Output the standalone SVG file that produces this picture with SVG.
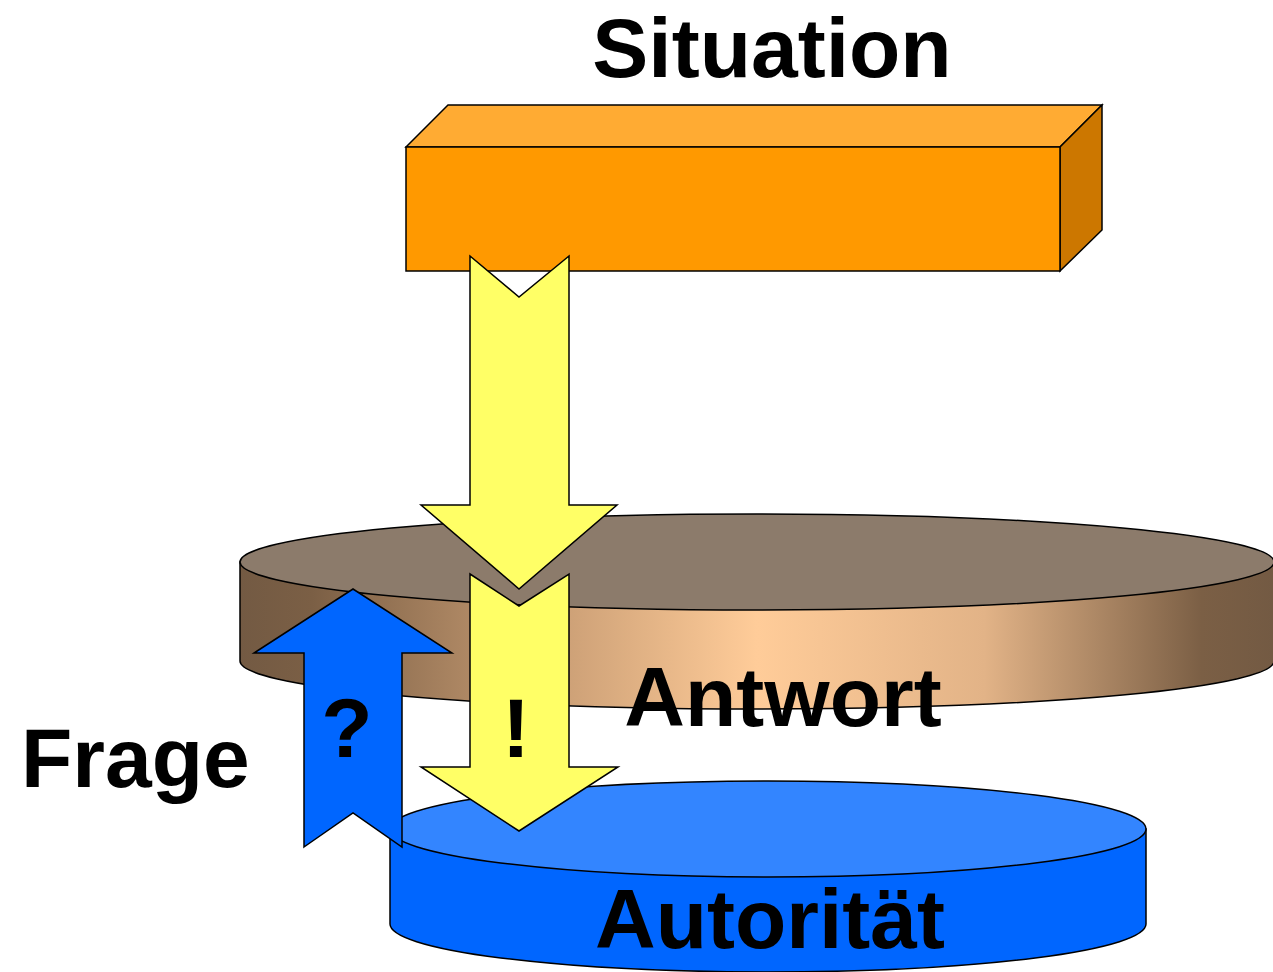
<svg xmlns="http://www.w3.org/2000/svg" width="1273" height="972" viewBox="0 0 1273 972">
<defs>
<linearGradient id="brownSide" gradientUnits="userSpaceOnUse" x1="240" y1="0" x2="1274" y2="0">
<stop offset="0" stop-color="#735a43"/>
<stop offset="0.07" stop-color="#7b5f45"/>
<stop offset="0.3" stop-color="#c99d74"/>
<stop offset="0.5" stop-color="#ffcc99"/>
<stop offset="0.72" stop-color="#e2b387"/>
<stop offset="0.93" stop-color="#7b5f45"/>
<stop offset="1" stop-color="#735a43"/>
</linearGradient>
<style>
.ol{stroke:#000;stroke-width:1.5;stroke-linejoin:miter}
.lbl{font-family:"Liberation Sans",Arial,sans-serif;font-weight:bold;font-size:84px;fill:#000}
</style>
</defs>
<g id="situation">
<polygon class="ol" points="406,147 448,105 1102,105 1060,147" fill="#ffab33"/>
<polygon class="ol" points="1060,147 1102,105 1102,230 1060,271" fill="#cc7700"/>
<rect class="ol" x="406" y="147" width="654" height="124" fill="#ff9900"/>
<text class="lbl" x="772" y="77" text-anchor="middle">Situation</text>
</g>
<g id="antwort">
<path class="ol" d="M240 562 L240 661 A517 48 0 0 0 1274 661 L1274 562 Z" fill="url(#brownSide)"/>
<ellipse class="ol" cx="757" cy="562" rx="517" ry="48" fill="#8c7b6b"/>
</g>
<g id="autoritaet">
<path class="ol" d="M390 829 L390 924 A378 48 0 0 0 1146 924 L1146 829 Z" fill="#0066ff"/>
<ellipse class="ol" cx="768" cy="829" rx="378" ry="48" fill="#3385ff"/>
</g>
<g id="connectors">
<polygon id="frage-arrow" class="ol" points="304,847 353,813 402,847 402,653 452,653 353,589 254,653 304,653" fill="#0066ff"/>
<polygon id="antwort-arrow" class="ol" points="470,574 519,606 569,574 569,767 618,767 519,831 421,767 470,767" fill="#ffff66"/>
<polygon id="situation-arrow" class="ol" points="470,256 519,297 569,256 569,505 617,505 519,589 421,505 470,505" fill="#ffff66"/>
</g>
<g id="labels">
<text class="lbl" x="783" y="726" text-anchor="middle">Antwort</text>
<text class="lbl" x="770" y="948" text-anchor="middle">Autorität</text>
<text class="lbl" x="21" y="787">Frage</text>
<text class="lbl" x="347" y="757" text-anchor="middle">?</text>
<text class="lbl" x="516" y="757" text-anchor="middle">!</text>
</g>
</svg>
